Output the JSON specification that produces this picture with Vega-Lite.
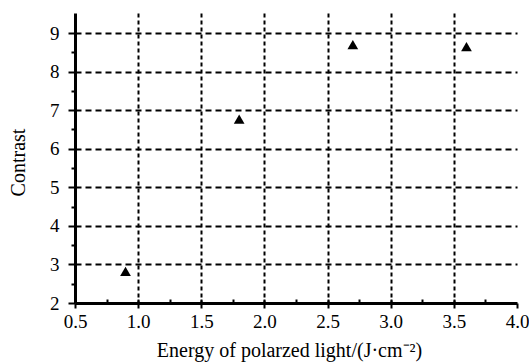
{
  "$schema": "https://vega.github.io/schema/vega-lite/v6.json",
  "width": 442,
  "height": 290,
  "autosize": "none",
  "padding": {"left": 75, "top": 13, "right": 12, "bottom": 60},
  "background": "white",
  "config": {
    "view": {"stroke": null},
    "axis": {"labelFont": "Liberation Serif", "titleFont": "Liberation Serif", "labelColor": "black", "titleColor": "black", "labelFontSize": 19, "titleFontSize": 20, "titleFontWeight": "normal", "domainColor": "black", "tickColor": "black", "gridColor": "black", "gridOpacity": 1}
  },
  "data": {"values": [
    {"energy": 0.9, "contrast": 2.82},
    {"energy": 1.8, "contrast": 6.77},
    {"energy": 2.7, "contrast": 8.7},
    {"energy": 3.6, "contrast": 8.65}
  ]},
  "layer": [
    {
      "mark": {"type": "point", "opacity": 0},
      "encoding": {
        "x": {"field": "energy", "type": "quantitative", "scale": {"domain": [0.5, 4.0], "nice": false, "zero": false},
          "axis": {"orient": "bottom", "values": [1, 1.5, 2, 2.5, 3, 3.5], "grid": true, "gridDash": [4, 3], "gridWidth": 2, "labels": false, "ticks": false, "domain": false, "title": null}},
        "y": {"field": "contrast", "type": "quantitative", "scale": {"domain": [2, 9.52], "nice": false, "zero": false},
          "axis": {"orient": "left", "values": [3, 4, 5, 6, 7, 8, 9], "grid": true, "gridDash": [6, 4], "gridWidth": 2, "labels": false, "ticks": false, "domain": false, "title": null}}
      }
    },
    {
      "mark": {"type": "point", "opacity": 0},
      "encoding": {
        "x": {"field": "energy", "type": "quantitative",
          "axis": {"orient": "bottom", "values": [0.75, 1, 1.25, 1.5, 1.75, 2, 2.25, 2.5, 2.75, 3, 3.25, 3.5, 3.75], "grid": false, "labels": false, "ticks": true, "tickSize": -4, "tickWidth": 2, "domain": false, "title": null}},
        "y": {"field": "contrast", "type": "quantitative",
          "axis": {"orient": "left", "values": [2.5, 3.5, 4.5, 5.5, 6.5, 7.5, 8.5], "grid": false, "labels": false, "ticks": true, "tickSize": 4, "tickWidth": 2, "domain": false, "title": null}}
      }
    },
    {
      "mark": {"type": "point", "shape": "triangle-up", "filled": true, "color": "black", "size": 115, "opacity": 1},
      "encoding": {
        "x": {"field": "energy", "type": "quantitative",
          "axis": {"orient": "bottom", "values": [0.5, 1, 1.5, 2, 2.5, 3, 3.5, 4], "format": ".1f", "grid": false, "tickSize": 5, "tickWidth": 2, "domain": true, "domainWidth": 3, "labelPadding": 4, "labelFlush": false, "title": "Energy of polarzed light/(J·cm⁻²)", "titleX": 214, "titlePadding": 9}},
        "y": {"field": "contrast", "type": "quantitative",
          "axis": {"orient": "left", "values": [2, 3, 4, 5, 6, 7, 8, 9], "format": "d", "grid": false, "tickSize": 7, "tickWidth": 2, "domain": true, "domainWidth": 3, "labelPadding": 9, "labelFlush": false, "title": "Contrast", "titleX": -57, "titleY": 149, "titleBaseline": "middle", "titleAngle": -90}}
      }
    }
  ],
  "resolve": {"axis": {"x": "independent", "y": "independent"}}
}
